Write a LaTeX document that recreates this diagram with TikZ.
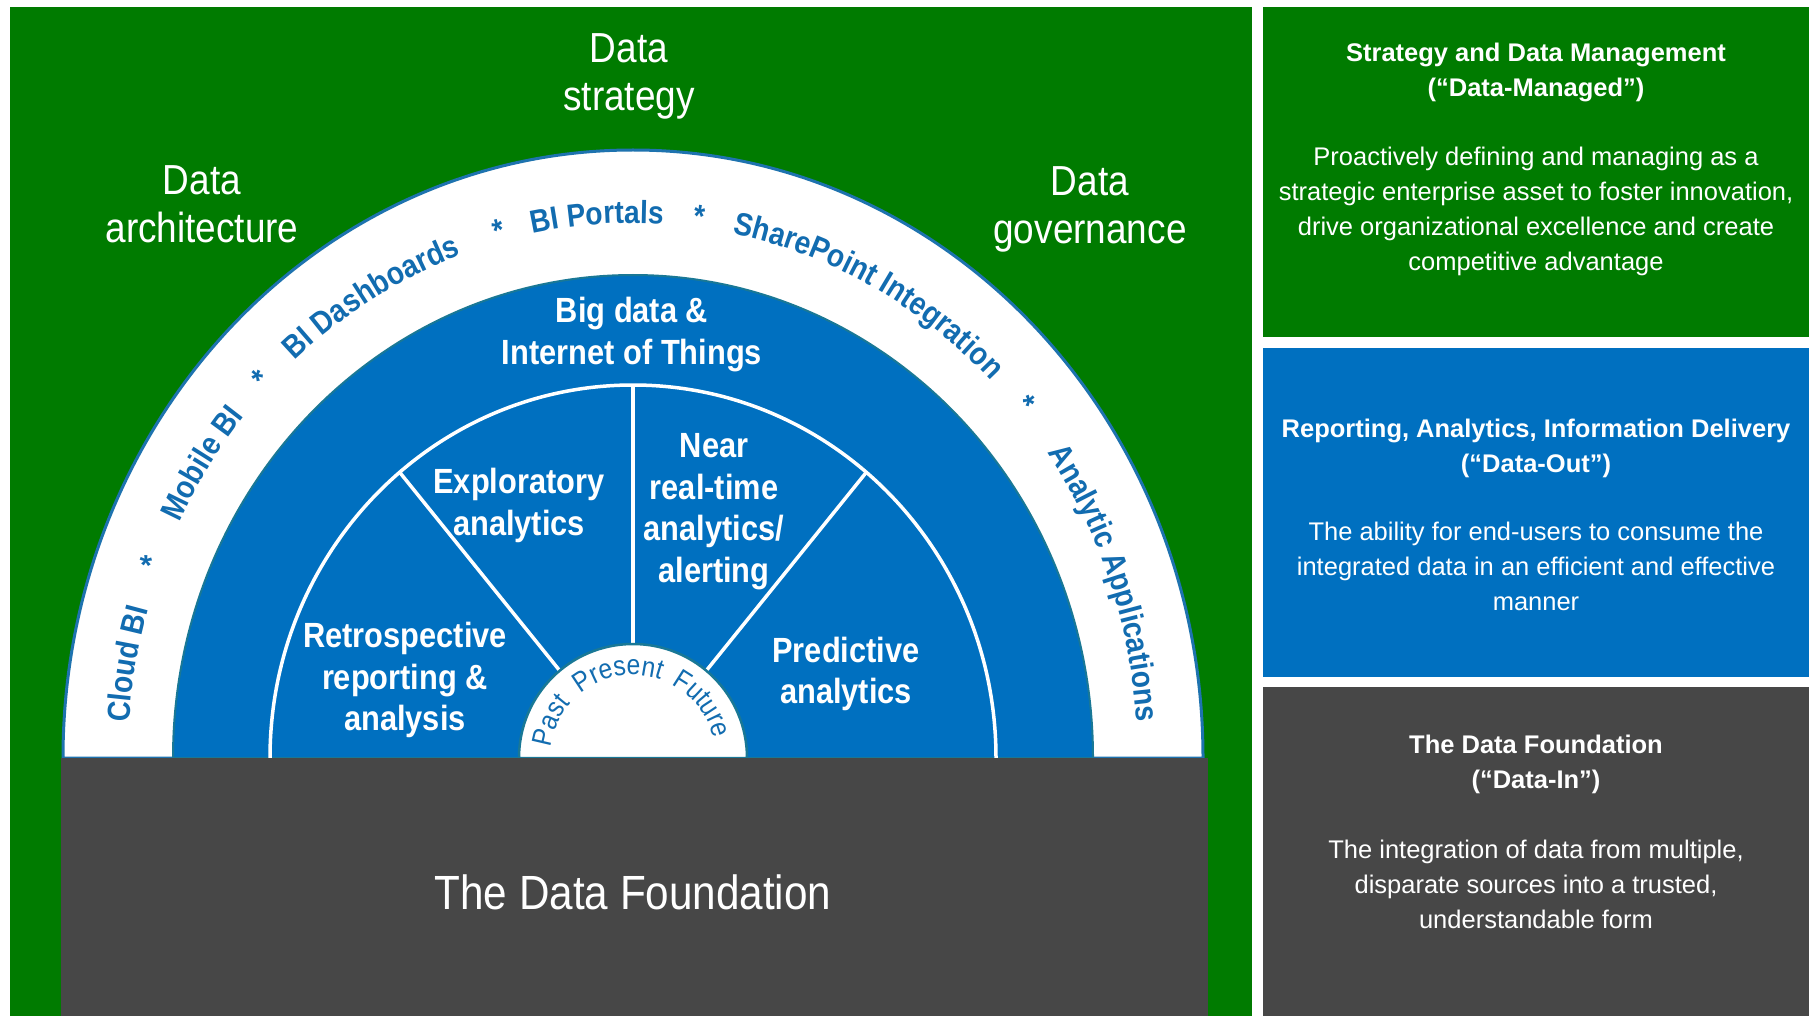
\documentclass[tikz,border=0pt]{standalone}
\usepackage{fontspec}
\setmainfont{Liberation Sans}
\newfontfamily\nfont{Liberation Sans}[FakeStretch=0.88]
\usetikzlibrary{decorations.text}
\definecolor{pgreen}{RGB}{0,123,0}
\definecolor{pblue}{RGB}{0,112,192}
\definecolor{pgray}{RGB}{71,71,71}
\definecolor{arcblue}{RGB}{18,108,176}
\definecolor{edgeblue}{RGB}{30,115,175}
\definecolor{tealedge}{RGB}{25,120,150}
\newcommand\myarcfont{\nfont\bfseries\fontsize{32}{38}\selectfont}
\newcommand\mypastfont{\nfont\fontsize{28}{32}\selectfont}
% angle, half span, text
\newcommand\arclabel[3]{%
\path[decorate,decoration={text along path,text={|\myarcfont|#3},text align=center,text color=arcblue}]
 ({633+505*cos(#1+#2)},{-758+535*sin(#1+#2)}) arc[start angle={#1+#2},end angle={#1-#2},x radius=505,y radius=535];}
\newcommand\pastlabel[3]{%
\path[decorate,decoration={text along path,text={|\mypastfont|#3},text align=center,text color=arcblue}]
 ({633+83*cos(#1+#2)},{-758+83*sin(#1+#2)}) arc[start angle={#1+#2},end angle={#1-#2},radius=83];}
\begin{document}
\begin{tikzpicture}[x=1pt,y=1pt,
  wlabel/.style={text=white,align=center,inner sep=0,font=\nfont\fontsize{42}{48}\selectfont},
  sector/.style={text=white,align=center,inner sep=0,font=\nfont\bfseries\fontsize{35}{41.5}\selectfont},
  ptitle/.style={text=white,align=center,inner sep=0,font=\bfseries\fontsize{25.5}{35}\selectfont},
  pbody/.style={text=white,align=center,inner sep=0,font=\fontsize{25.5}{35}\selectfont},
  divider/.style={white,line width=3.5pt}]
\useasboundingbox (0,0) rectangle (1809,-1016);
\fill[white] (0,0) rectangle (1809,-1016);
% panels
\fill[pgreen] (10,-7) rectangle (1252,-1016);
\fill[pgreen] (1263,-7) rectangle (1809,-337);
\fill[pblue] (1263,-348) rectangle (1809,-677);
\fill[pgray] (1263,-687) rectangle (1809,-1016);
% rainbow
\coordinate (C) at (633,-758);
\filldraw[fill=white,draw=edgeblue,line width=3pt] (63,-758) arc[start angle=180,end angle=0,x radius=570,y radius=608] -- cycle;
\filldraw[fill=pblue,draw=tealedge,line width=2pt] (173,-758) arc[start angle=180,end angle=0,x radius=460,y radius=483] -- cycle;
\draw[divider] (270,-758) arc[start angle=180,end angle=0,x radius=363,y radius=373];
\coordinate (l1a) at ({633+114*cos(130)},{-758+114*sin(130)});
\coordinate (l1b) at ({633+363*cos(130)},{-758+373*sin(130)});
\coordinate (l2a) at (633,-644);
\coordinate (l2b) at (633,-385);
\coordinate (l3a) at ({633+114*cos(50)},{-758+114*sin(50)});
\coordinate (l3b) at ({633+363*cos(50)},{-758+373*sin(50)});
\draw[divider] (l1a) -- (l1b);
\draw[divider] (l2a) -- (l2b);
\draw[divider] (l3a) -- (l3b);
\filldraw[fill=white,draw=tealedge,line width=2.5pt] (519,-758) arc[start angle=180,end angle=0,radius=114] -- cycle;
% foundation
\fill[pgray] (61,-758) rectangle (1208,-1016);
% arc labels
\arclabel{170}{14}{Cloud BI}
\arclabel{159}{5}{*}
\arclabel{147}{14}{Mobile BI}
\arclabel{136}{5}{*}
\arclabel{120.8}{22}{BI Dashboards}
\arclabel{105}{5}{*}
\arclabel{94}{14}{BI Portals}
\arclabel{82.6}{5}{*}
\arclabel{62}{30}{SharePoint Integration}
\arclabel{40.5}{5}{*}
\arclabel{19.5}{30}{Analytic Applications}
\pastlabel{155.6}{30}{Past}
\pastlabel{100}{40}{Present}
\pastlabel{38}{40}{Future}
% labels
\node[wlabel] (dstrat) at (629,-76) {Data\\strategy};
\node[wlabel] (darch) at (202,-204) {Data\\architecture};
\node[wlabel] (dgov) at (1090,-209) {Data\\governance};
\node[sector] (bigdata) at (632,-334.5) {Big data \&\\Internet of Things};
\node[sector] (explor) at (519,-505.5) {Exploratory\\analytics};
\node[sector] (near) at (714,-511.5) {Near\\real-time\\analytics/\\alerting};
\node[sector] (retro) at (405,-680) {Retrospective\\reporting \&\\analysis};
\node[sector] (pred) at (846,-674) {Predictive\\analytics};
\node[text=white,inner sep=0,font=\nfont\fontsize{48}{54}\selectfont] (found) at (633,-892) {The Data Foundation};
% right panel texts
\node[ptitle] (t1) at (1536,-72.5) {Strategy and Data Management\\(“Data-Managed”)};
\node[pbody] (b1) at (1536,-211) {Proactively defining and managing as a\\strategic enterprise asset to foster innovation,\\drive organizational excellence and create\\competitive advantage};
\node[ptitle] (t2) at (1536,-448) {Reporting, Analytics, Information Delivery\\(“Data-Out”)};
\node[pbody] (b2) at (1536,-566) {The ability for end-users to consume the\\integrated data in an efficient and effective\\manner};
\node[ptitle] (t3) at (1536,-764) {The Data Foundation\\(“Data-In”)};
\node[pbody] (b3) at (1536,-884.5) {The integration of data from multiple,\\disparate sources into a trusted,\\understandable form};
\end{tikzpicture}
\end{document}
